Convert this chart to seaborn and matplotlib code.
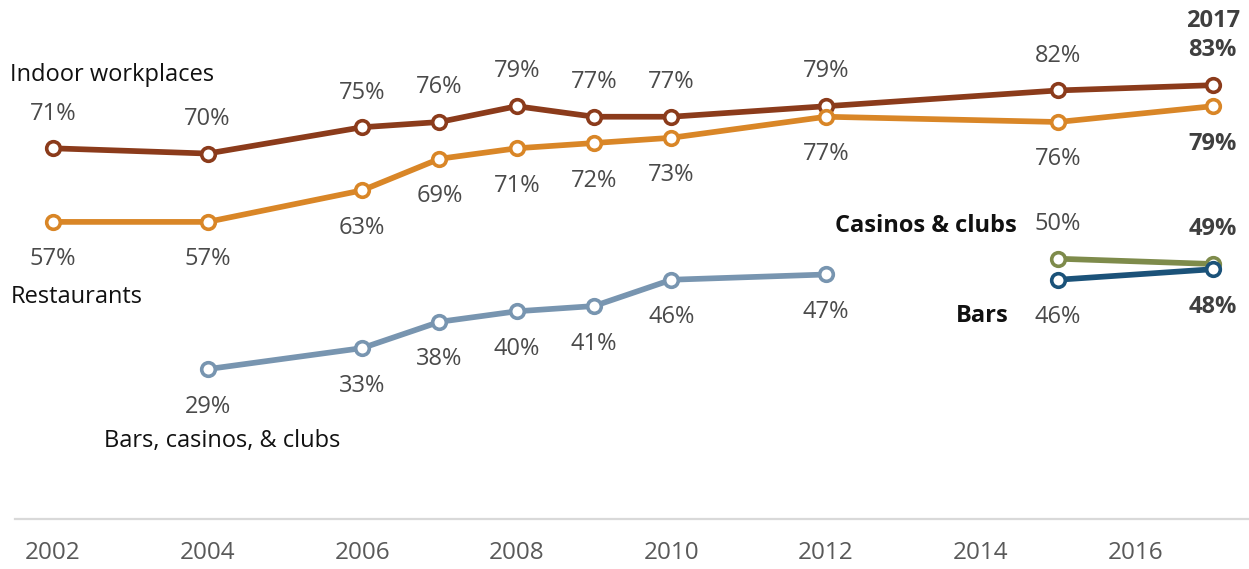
import matplotlib
matplotlib.use("Agg")
import matplotlib.pyplot as plt
import seaborn as sns
import pandas as pd

# Share of adults who support smoke-free laws, by venue
years_main = [2002, 2004, 2006, 2007, 2008, 2009, 2010, 2012, 2015, 2017]
indoor_workplaces = [71, 70, 75, 76, 79, 77, 77, 79, 82, 83]
restaurants = [57, 57, 63, 69, 71, 72, 73, 77, 76, 79]

years_bcc = [2004, 2006, 2007, 2008, 2009, 2010, 2012]
bars_casinos_clubs = [29, 33, 38, 40, 41, 46, 47]

years_split = [2015, 2017]
casinos_clubs = [50, 49]
bars = [46, 48]

xticks = [2002, 2004, 2006, 2008, 2010, 2012, 2014, 2016]

colors = {
    "Indoor workplaces": "#8b3b1b",
    "Restaurants": "#d98627",
    "Bars, casinos, & clubs": "#7895b0",
    "Casinos & clubs": "#7e8b4b",
    "Bars": "#1b5279",
}

series = [
    ("Indoor workplaces", years_main, indoor_workplaces, "above"),
    ("Restaurants", years_main, restaurants, "below"),
    ("Bars, casinos, & clubs", years_bcc, bars_casinos_clubs, "below"),
    ("Casinos & clubs", years_split, casinos_clubs, "above"),
    ("Bars", years_split, bars, "below"),
]

sns.set_theme(style="white")
plt.rcParams["font.family"] = ["Open Sans", "DejaVu Sans"]

FS = 17

fig = plt.figure(figsize=(12.49, 5.69), dpi=100)
ax = fig.add_axes([15 / 1249, 50 / 569, 1234 / 1249, 519 / 569])

label_color = "#4a4a4a"
for name, xs, ys, side in series:
    df = pd.DataFrame({"year": xs, "pct": ys})
    c = colors[name]
    sns.lineplot(data=df, x="year", y="pct", ax=ax, color=c, linewidth=4.1,
                 marker="o", markersize=9.8, markerfacecolor="white",
                 markeredgecolor=c, markeredgewidth=2.6, zorder=3)
    for x, y in zip(xs, ys):
        last = x == 2017
        dy = 25 if side == "above" else -27
        ax.annotate(f"{y}%", (x, y), xytext=(0, dy), textcoords="offset points",
                    ha="center", va="center", fontsize=FS,
                    color="#3f3f3f" if last else label_color,
                    fontweight="bold" if last else "normal")

# Series names
ax.text(2001.45, 84.9, "Indoor workplaces", fontsize=FS, color="#111111",
        ha="left", va="center")
ax.text(2001.45, 42.7, "Restaurants", fontsize=FS, color="#111111",
        ha="left", va="center")
ax.text(2002.66, 15.3, "Bars, casinos, & clubs", fontsize=FS, color="#111111",
        ha="left", va="center")
ax.text(2014.47, 56.2, "Casinos & clubs", fontsize=FS, color="#111111",
        ha="right", va="center", fontweight="bold")
ax.text(2014.36, 39.1, "Bars", fontsize=FS, color="#111111",
        ha="right", va="center", fontweight="bold")
ax.annotate("2017", (2017, 83), xytext=(0, 46), textcoords="offset points",
            ha="center", va="center", fontsize=FS, fontweight="bold",
            color="#3f3f3f")

ax.set_xlim(2001.51, 2017.47)
ax.set_ylim(0.5, 99.2)
ax.set_xticks(xticks)
ax.set_xticklabels([str(t) for t in xticks])
ax.tick_params(axis="x", length=0, pad=16, labelsize=17.5, labelcolor="#595959")
ax.set_yticks([])
ax.set_xlabel("")
ax.set_ylabel("")
for s in ["left", "right", "top"]:
    ax.spines[s].set_visible(False)
ax.spines["bottom"].set_color("#d9d9d9")
ax.spines["bottom"].set_linewidth(1.6)
ax.set_facecolor("white")

fig.savefig("out.png", dpi=100, facecolor="white")
